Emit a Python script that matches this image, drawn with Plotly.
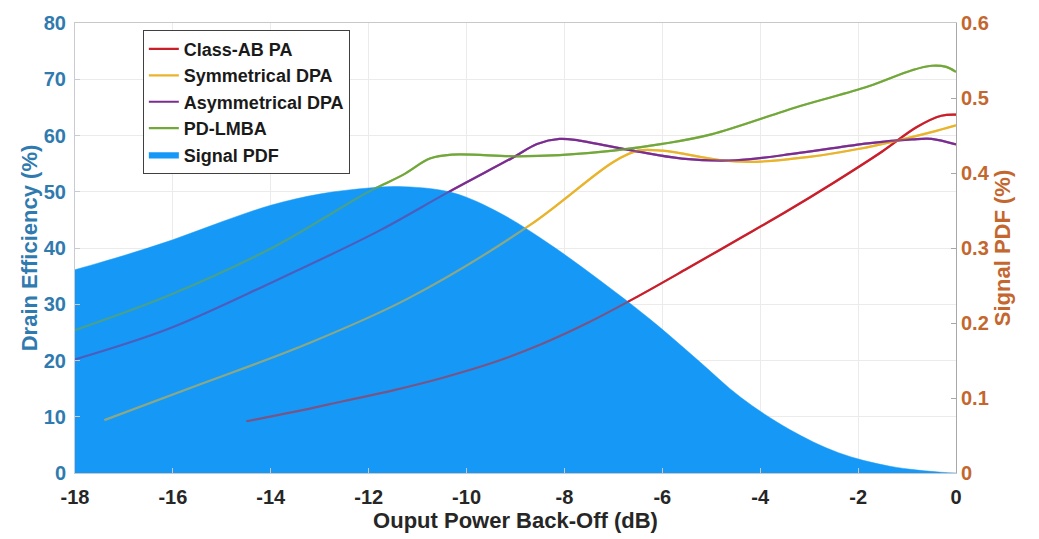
import plotly.graph_objects as go

# Output power back-off (dB) vs drain efficiency (%) for each amplifier
ab_x = [-14.5, -13.5, -12.5, -11.5, -10.5, -9.5, -8.5, -7.5, -6.5, -5.5, -4.5, -3.5, -2.5, -1.5, -0.8, -0.3, 0.0]
ab_y = [9.2, 10.9, 12.8, 14.7, 16.9, 19.5, 22.8, 26.8, 31.4, 36.3, 41.3, 46.3, 51.6, 57.2, 61.5, 63.5, 63.7]

sym_x = [-17.4, -15.4, -13.3, -11.2, -8.7, -7.0, -6.5, -6.0, -4.8, -4.2, -3.0, -2.0, -1.2, -0.5, 0.0]
sym_y = [9.4, 15.9, 22.8, 31.0, 44.1, 55.3, 57.3, 57.3, 55.6, 55.3, 56.2, 57.6, 59.1, 60.6, 61.8]

asym_x = [-18.0, -16.1, -14.0, -11.8, -10.4, -9.05, -8.56, -8.1, -7.7, -6.6, -5.6, -4.5, -3.2, -1.8, -0.9, -0.5, 0.0]
asym_y = [20.2, 25.6, 33.8, 43.0, 49.8, 56.1, 58.5, 59.4, 59.1, 57.3, 55.9, 55.6, 56.9, 58.6, 59.3, 59.4, 58.4]

lmba_x = [-18.0, -16.1, -14.0, -12.0, -11.3, -10.75, -10.3, -9.0, -8.1, -7.0, -6.0, -5.0, -3.2, -1.8, -0.9, -0.5, -0.2, 0.0]
lmba_y = [25.4, 31.5, 39.9, 50.0, 53.0, 55.9, 56.6, 56.3, 56.5, 57.3, 58.5, 60.2, 65.2, 68.7, 71.6, 72.4, 72.2, 71.3]

# Signal probability density (%) over back-off
pdf_x = [-18, -17, -16, -15, -14, -13, -12, -11.4, -10.3, -9.3, -8.3, -7.3, -6.25, -5.3, -4.4, -3.4, -2.4, -1.35, -0.3, 0]
pdf_y = [0.271, 0.290, 0.311, 0.335, 0.357, 0.372, 0.380, 0.382, 0.374, 0.346, 0.305, 0.258, 0.205, 0.152, 0.101, 0.058, 0.027, 0.009, 0.001, 0.0]

# Axis tick labels
x_ticks = [-18, -16, -14, -12, -10, -8, -6, -4, -2, 0]
x_ticklabels = ["-18", "-16", "-14", "-12", "-10", "-8", "-6", "-4", "-2", "0"]

series = [
    ("Class-AB PA", ab_x, ab_y, "#C91F2B"),
    ("Symmetrical DPA", sym_x, sym_y, "#E9B42C"),
    ("Asymmetrical DPA", asym_x, asym_y, "#7B2D8F"),
    ("PD-LMBA", lmba_x, lmba_y, "#72A83A"),
]

FONT = "Arial, 'Liberation Sans', sans-serif"
BLUE_AX = "#2F7AAE"
ORANGE_AX = "#C4672E"
FILL = "#1699F6"

fig = go.Figure()

# Solid curves underneath the density area
for name, xs, ys, col in series:
    fig.add_trace(go.Scatter(
        x=xs, y=ys, name=f"<b>{name}</b>", mode="lines",
        line=dict(color=col, width=2.2, shape="spline", smoothing=1.0),
        xaxis="x", yaxis="y", legendgroup=name,
    ))

# Signal PDF area on the right axis
fig.add_trace(go.Scatter(
    x=pdf_x, y=pdf_y, name="<b>Signal PDF</b>", mode="lines",
    fill="tozeroy", fillcolor=FILL,
    line=dict(color=FILL, width=0.5, shape="spline", smoothing=1.0),
    xaxis="x", yaxis="y2",
))

# Translucent copies of the curves drawn over the area
for name, xs, ys, col in series:
    fig.add_trace(go.Scatter(
        x=xs, y=ys, name=name, mode="lines", showlegend=False,
        opacity=0.55,
        line=dict(color=col, width=2.2, shape="spline", smoothing=1.0),
        xaxis="x", yaxis="y3", legendgroup=name, hoverinfo="skip",
    ))

fig.update_layout(
    width=1039, height=539,
    margin=dict(l=75, r=83, t=15, b=65),
    paper_bgcolor="white", plot_bgcolor="white",
    font=dict(family=FONT, size=20, color="#262626"),
    showlegend=True,
    legend=dict(
        x=0.077, y=0.985, xanchor="left", yanchor="top",
        bgcolor="white", bordercolor="#404040", borderwidth=1,
        font=dict(family=FONT, size=18, color="#1a1a1a"),
        tracegroupgap=0, itemwidth=30,
    ),
    xaxis=dict(
        range=[-18, 0], tickvals=x_ticks, ticktext=x_ticklabels,
        showgrid=True, gridcolor="#EBEBEB", gridwidth=1,
        zeroline=False, showline=True, linecolor="#C8C8C8", mirror=True,
        ticks="inside", ticklen=5, tickcolor="#C8C8C8",
        tickfont=dict(family=FONT, size=20, color="#262626", weight="bold"),
        ticklabelstandoff=6,
        title=dict(text="Ouput Power Back-Off (dB)", standoff=4,
                   font=dict(family=FONT, size=22, color="#262626", weight="bold")),
    ),
    yaxis=dict(
        range=[0, 80], dtick=10,
        showgrid=True, gridcolor="#EBEBEB", gridwidth=1,
        zeroline=False, showline=True, linecolor="#C8CCD2",
        ticks="inside", ticklen=5, tickcolor="#C8CCD2",
        tickfont=dict(family=FONT, size=20, color=BLUE_AX, weight="bold"),
        ticklabelstandoff=4,
        title=dict(text="Drain Efficiency (%)", standoff=0,
                   font=dict(family=FONT, size=22, color=BLUE_AX, weight="bold")),
    ),
    yaxis2=dict(
        range=[0, 0.6], dtick=0.1, overlaying="y", side="right", anchor="x",
        showgrid=False, zeroline=False, showline=True, linecolor="#A8A8A8",
        ticks="inside", ticklen=5, tickcolor="#A8A8A8",
        tickfont=dict(family=FONT, size=20, color=ORANGE_AX, weight="bold"),
        title=dict(text="Signal PDF (%)", standoff=4,
                   font=dict(family=FONT, size=22, color=ORANGE_AX, weight="bold")),
    ),
    yaxis3=dict(
        range=[0, 80], overlaying="y", anchor="x", visible=False,
    ),
)

fig.write_html("out.html")
